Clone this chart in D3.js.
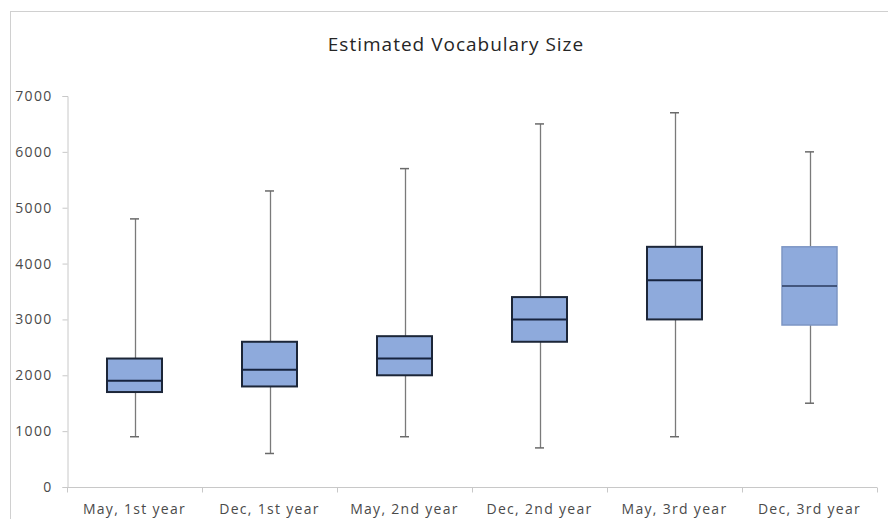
<!DOCTYPE html>
<html>
<head>
<meta charset="utf-8">
<script src="https://cdn.jsdelivr.net/npm/d3@7"></script>
<style>
  html, body { margin: 0; padding: 0; background: #fff; }
  svg { display: block; }
</style>
</head>
<body>
<svg id="chart" width="888" height="519"></svg>
<script>
// Vocabulary size estimates per survey point (five-number summaries)
const categories = ["May, 1st year", "Dec, 1st year", "May, 2nd year", "Dec, 2nd year", "May, 3rd year", "Dec, 3rd year"];
const minValues    = [900, 600, 900, 700, 900, 1500];
const q1Values     = [1700, 1800, 2000, 2600, 3000, 2900];
const medianValues = [1900, 2100, 2300, 3000, 3700, 3600];
const q3Values     = [2300, 2600, 2700, 3400, 4300, 4300];
const maxValues    = [4800, 5300, 5700, 6500, 6700, 6000];
const yTicks = [0, 1000, 2000, 3000, 4000, 5000, 6000, 7000];
const titleText = "Estimated Vocabulary Size";

const rows = categories.map((c, i) => ({
  cat: c, min: minValues[i], q1: q1Values[i], med: medianValues[i], q3: q3Values[i], max: maxValues[i], i
}));

const svg = d3.select("#chart");
const plotLeft = 67, plotRight = 877, plotTop = 96, plotBottom = 487;
const font = "'Open Sans', 'Liberation Sans', sans-serif";

// chart frame
svg.append("rect")
  .attr("x", 10.5).attr("y", 11.5).attr("width", 900).attr("height", 540)
  .attr("fill", "#fff").attr("stroke", "#d0d0d0").attr("stroke-width", 1);

svg.append("text")
  .attr("x", 456).attr("y", 51)
  .attr("text-anchor", "middle")
  .attr("font-family", font).attr("font-size", 19).attr("letter-spacing", 1)
  .attr("fill", "#262626")
  .text(titleText);

const x = d3.scaleBand().domain(categories).range([plotLeft, plotRight]).paddingInner(0).paddingOuter(0);
const y = d3.scaleLinear().domain([0, 7000]).range([plotBottom, plotTop]);

// y axis
const yAxis = svg.append("g")
  .attr("transform", `translate(${plotLeft + 0.5},0)`)
  .call(d3.axisLeft(y).tickValues(yTicks).tickFormat(d3.format("d")).tickSize(5).tickPadding(10));
yAxis.select(".domain").attr("stroke", "#c8c8c8");
yAxis.selectAll(".tick line").attr("stroke", "#c8c8c8");
yAxis.selectAll(".tick text")
  .attr("font-family", font).attr("font-size", 14).attr("letter-spacing", 1.3)
  .attr("fill", "#4a4a4a");

// x axis with category separator ticks
const xAxis = svg.append("g").attr("transform", `translate(0,${plotBottom + 0.5})`);
xAxis.append("line")
  .attr("x1", plotLeft).attr("x2", plotRight).attr("stroke", "#c8c8c8");
const edges = categories.map(c => x(c)).concat([x(categories[categories.length - 1]) + x.bandwidth()]);
xAxis.selectAll("line.sep").data(edges).join("line")
  .attr("class", "sep")
  .attr("x1", d => Math.round(d) + 0.5).attr("x2", d => Math.round(d) + 0.5)
  .attr("y1", 0).attr("y2", 5).attr("stroke", "#c8c8c8");
xAxis.selectAll("text").data(categories).join("text")
  .attr("x", d => x(d) + x.bandwidth() / 2)
  .attr("y", 26)
  .attr("text-anchor", "middle")
  .attr("font-family", font).attr("font-size", 14).attr("letter-spacing", 1.3)
  .attr("fill", "#4a4a4a")
  .text(d => d);

// box plots
const boxW = 55, capW = 9;
const g = svg.append("g");
const cx = d => x(d.cat) + x.bandwidth() / 2;

g.selectAll("line.whisker").data(rows).join("line")
  .attr("class", "whisker")
  .attr("x1", d => Math.round(cx(d)) + 0.5).attr("x2", d => Math.round(cx(d)) + 0.5)
  .attr("y1", d => y(d.max)).attr("y2", d => y(d.min))
  .attr("stroke", "#7a7a7a").attr("stroke-width", 1.3);

g.selectAll("line.capTop").data(rows).join("line")
  .attr("class", "capTop")
  .attr("x1", d => cx(d) - capW / 2).attr("x2", d => cx(d) + capW / 2)
  .attr("y1", d => y(d.max)).attr("y2", d => y(d.max))
  .attr("stroke", "#6a6a6a").attr("stroke-width", 1.5);

g.selectAll("line.capBot").data(rows).join("line")
  .attr("class", "capBot")
  .attr("x1", d => cx(d) - capW / 2).attr("x2", d => cx(d) + capW / 2)
  .attr("y1", d => y(d.min)).attr("y2", d => y(d.min))
  .attr("stroke", "#6a6a6a").attr("stroke-width", 1.5);

g.selectAll("rect.box").data(rows).join("rect")
  .attr("class", "box")
  .attr("x", d => cx(d) - boxW / 2).attr("width", boxW)
  .attr("y", d => y(d.q3)).attr("height", d => y(d.q1) - y(d.q3))
  .attr("fill", "#8eaadc")
  .attr("stroke", d => d.i === rows.length - 1 ? "#7d96c4" : "#1c2638")
  .attr("stroke-width", d => d.i === rows.length - 1 ? 1.5 : 2);

g.selectAll("line.median").data(rows).join("line")
  .attr("class", "median")
  .attr("x1", d => cx(d) - boxW / 2).attr("x2", d => cx(d) + boxW / 2)
  .attr("y1", d => y(d.med)).attr("y2", d => y(d.med))
  .attr("stroke", d => d.i === rows.length - 1 ? "#2a3a5e" : "#16233f")
  .attr("stroke-width", d => d.i === rows.length - 1 ? 1.5 : 2);
</script>
</body>
</html>
